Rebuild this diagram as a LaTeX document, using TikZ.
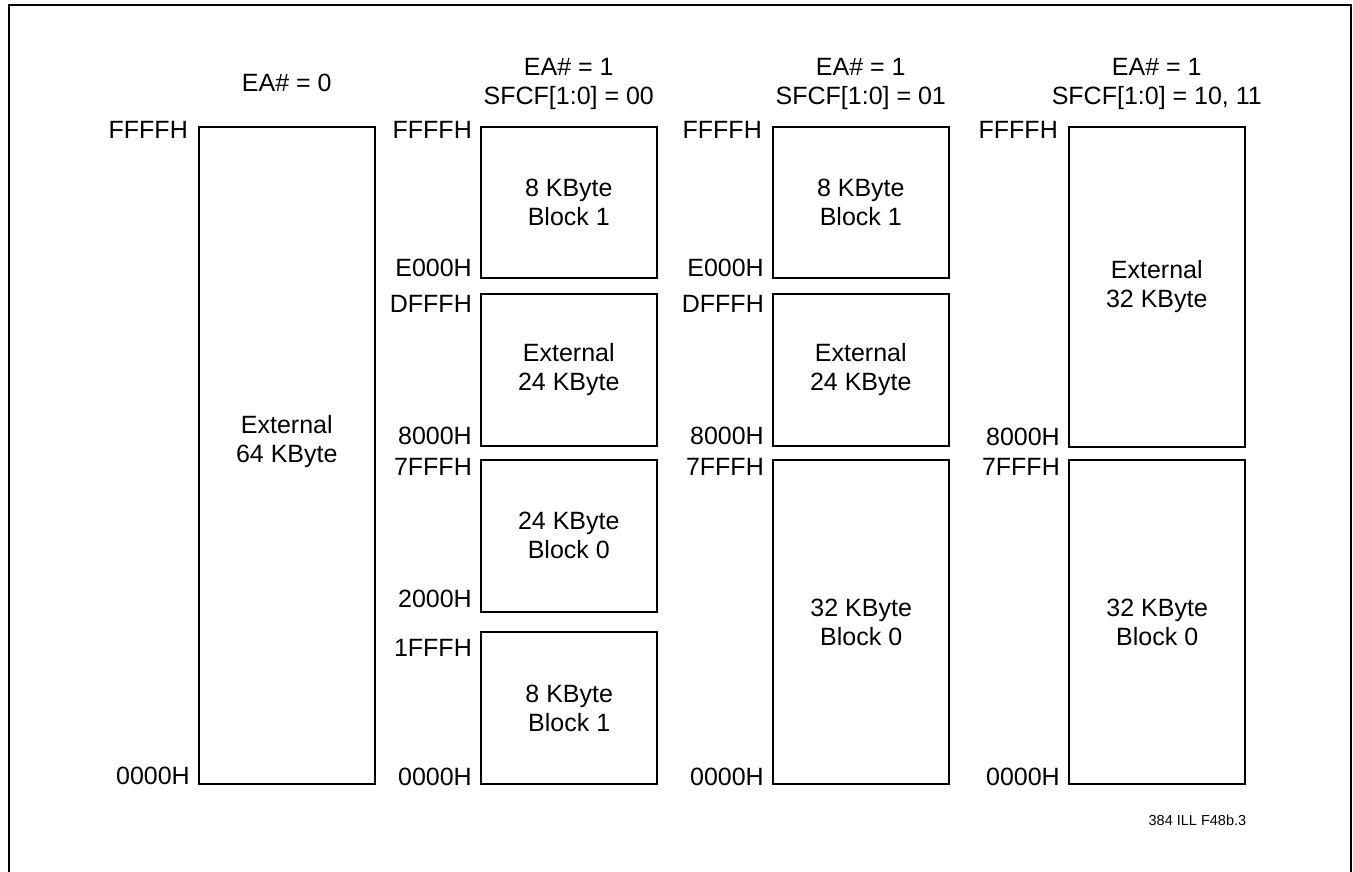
\documentclass[tikz,border=0pt]{standalone}
\usepackage{fontspec}
\setmainfont{Liberation Sans}
\usetikzlibrary{positioning}
\tikzset{
  mem_font/.style = {font=\fontsize{25}{29}\selectfont},
  mem_box/.style = {mem_font, draw, line width=1.6pt, inner sep=0pt, align=center, anchor=north west, minimum width=176pt},
  mem_thk/.style = {mem_box, line width=2.4pt},
  addr_l/.style = {mem_font, inner sep=0pt, anchor=base east},
  hdr_t/.style = {mem_font, inner sep=0pt, anchor=base}
}

\begin{document}
\begin{tikzpicture}[x=1pt,y=-1pt]
\useasboundingbox (0,0) rectangle (1353,871);
\draw[line width=2.5pt] (9,880) -- (9,5) -- (1351,5) -- (1351,880);

% EA# = 0
\node [mem_box, minimum height=657pt] (b1) at (198,126) {};
\node [mem_font, align=center] (t1) at ([yshift=14pt]b1.center) {External\\64 KByte};
\node [hdr_t] (h1) at ([yshift=35pt]b1.north) {EA\# = 0};
\node [addr_l] (l1a) at ([xshift=-10pt,yshift=-12pt]b1.north west) {FFFFH};
\node [addr_l] (l1b) at ([xshift=-8pt]b1.south west) {0000H};

% EA# = 1, SFCF = 00
\node [mem_box, minimum height=151pt] (b2a) at (480,126) {8 KByte\\Block 1};
\node [mem_box, minimum height=152pt] (b2b) at (480,293) {External\\24 KByte};
\node [mem_box, minimum height=152pt] (b2c) at (480,459) {24 KByte\\Block 0};
\node [mem_thk, minimum height=152pt] (b2d) at (480,631) {8 KByte\\Block 1};
\node [hdr_t] (h2a) at ([yshift=51pt]b2a.north) {EA\# = 1};
\node [hdr_t] (h2b) at ([yshift=22pt]b2a.north) {SFCF[1:0] = 00};
\node [addr_l] (l2a) at ([xshift=-8pt,yshift=-12pt]b2a.north west) {FFFFH};
\node [addr_l] (l2b) at ([xshift=-8pt,yshift=2pt]b2a.south west) {E000H};
\node [addr_l] (l2c) at ([xshift=-8pt,yshift=-19pt]b2b.north west) {DFFFH};
\node [addr_l] (l2d) at ([xshift=-8pt,yshift=2pt]b2b.south west) {8000H};
\node [addr_l] (l2e) at ([xshift=-8pt,yshift=-16pt]b2c.north west) {7FFFH};
\node [addr_l] (l2f) at ([xshift=-8pt,yshift=5pt]b2c.south west) {2000H};
\node [addr_l] (l2g) at ([xshift=-8pt,yshift=-25pt]b2d.north west) {1FFFH};
\node [addr_l] (l2h) at ([xshift=-8pt]b2d.south west) {0000H};

% EA# = 1, SFCF = 01
\node [mem_box, minimum height=151pt] (b3a) at (772,126) {8 KByte\\Block 1};
\node [mem_box, minimum height=152pt] (b3b) at (772,293) {External\\24 KByte};
\node [mem_thk, minimum height=324pt] (b3c) at (772,459) {32 KByte\\Block 0};
\node [hdr_t] (h3a) at ([yshift=51pt]b3a.north) {EA\# = 1};
\node [hdr_t] (h3b) at ([yshift=22pt]b3a.north) {SFCF[1:0] = 01};
\node [addr_l] (l3a) at ([xshift=-10pt,yshift=-12pt]b3a.north west) {FFFFH};
\node [addr_l] (l3b) at ([xshift=-8pt,yshift=2pt]b3a.south west) {E000H};
\node [addr_l] (l3c) at ([xshift=-8pt,yshift=-19pt]b3b.north west) {DFFFH};
\node [addr_l] (l3d) at ([xshift=-8pt,yshift=2pt]b3b.south west) {8000H};
\node [addr_l] (l3e) at ([xshift=-8pt,yshift=-16pt]b3c.north west) {7FFFH};
\node [addr_l] (l3f) at ([xshift=-8pt]b3c.south west) {0000H};

% EA# = 1, SFCF = 10, 11
\node [mem_box, minimum height=320pt] (b4a) at (1068,126) {External\\32 KByte};
\node [mem_thk, minimum height=324pt] (b4b) at (1068,459) {32 KByte\\Block 0};
\node [hdr_t] (h4a) at ([yshift=51pt]b4a.north) {EA\# = 1};
\node [hdr_t] (h4b) at ([yshift=22pt]b4a.north) {SFCF[1:0] = 10, 11};
\node [addr_l] (l4a) at ([xshift=-10pt,yshift=-12pt]b4a.north west) {FFFFH};
\node [addr_l] (l4b) at ([xshift=-8pt,yshift=2pt]b4a.south west) {8000H};
\node [addr_l] (l4c) at ([xshift=-8pt,yshift=-16pt]b4b.north west) {7FFFH};
\node [addr_l] (l4d) at ([xshift=-8pt]b4b.south west) {0000H};

\node [inner sep=0pt, anchor=base east, font=\fontsize{14.5}{17}\selectfont] (fig) at ([yshift=-40pt]b4b.south east) {384 ILL F48b.3};
\end{tikzpicture}
\end{document}
